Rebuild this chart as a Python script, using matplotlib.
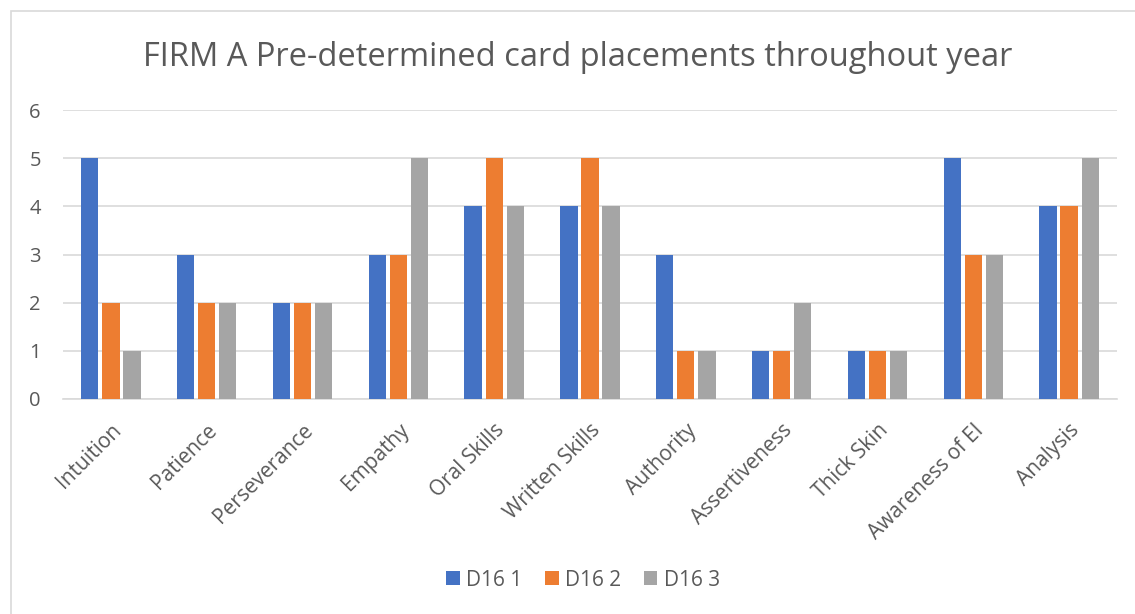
import numpy as np
import matplotlib.pyplot as plt
from matplotlib.patches import Rectangle

plt.rcParams['font.family'] = ['Open Sans', 'DejaVu Sans']

categories = ['Intuition', 'Patience', 'Perseverance', 'Empathy', 'Oral Skills',
              'Written Skills', 'Authority', 'Assertiveness', 'Thick Skin',
              'Awareness of EI', 'Analysis']
d16_1 = [5, 3, 2, 3, 4, 4, 3, 1, 1, 5, 4]
d16_2 = [2, 2, 2, 3, 5, 5, 1, 1, 1, 3, 4]
d16_3 = [1, 2, 2, 5, 4, 4, 1, 2, 1, 3, 5]
series_names = ['D16 1', 'D16 2', 'D16 3']
colors = ['#4472C4', '#ED7D31', '#A5A5A5']
text_col = '#595959'

fig = plt.figure(figsize=(11.35, 6.14), dpi=100)
# chart border (Excel chart area)
fig.patches.append(Rectangle((11 / 1135, -0.01), 1.02, 1 - 11 / 614 + 0.01,
                             transform=fig.transFigure, fill=False,
                             edgecolor='#D9D9D9', linewidth=1.2))

ax = fig.add_axes([63 / 1135, 1 - 399 / 614, (1117 - 63) / 1135, (399 - 110) / 614])

x = np.arange(len(categories))
step = 0.22
for i, (vals, name, c) in enumerate(zip([d16_1, d16_2, d16_3], series_names, colors)):
    ax.bar(x + (i - 1) * step, vals, width=0.18, color=c, label=name, zorder=3)

ax.set_xlim(-0.5, len(categories) - 0.5)
ax.set_ylim(0, 6)
ax.set_yticks(range(7))
ax.yaxis.grid(True, color='#D9D9D9', linewidth=1.2, zorder=0)
for s in ['top', 'right', 'left']:
    ax.spines[s].set_visible(False)
ax.spines['bottom'].set_color('#D9D9D9')
ax.spines['bottom'].set_linewidth(1.2)
ax.tick_params(axis='both', length=0, colors=text_col)
ax.tick_params(axis='y', pad=16, labelsize=14.5)
ax.set_xticks(x)
ax.set_xticklabels(categories, rotation=45, ha='right', rotation_mode='anchor')
ax.tick_params(axis='x', pad=15, labelsize=15)

fig.text(0.509, 1 - 58 / 614, 'FIRM A Pre-determined card placements throughout year',
         ha='center', va='center', fontsize=23.5, color=text_col)

fig.legend(loc='center', bbox_to_anchor=(583 / 1135, 1 - 580 / 614), ncol=3, frameon=False,
           fontsize=15, labelcolor=text_col, handlelength=0.65, handleheight=0.65,
           handletextpad=0.3, columnspacing=1.1)

fig.savefig('out.png', dpi=100)
